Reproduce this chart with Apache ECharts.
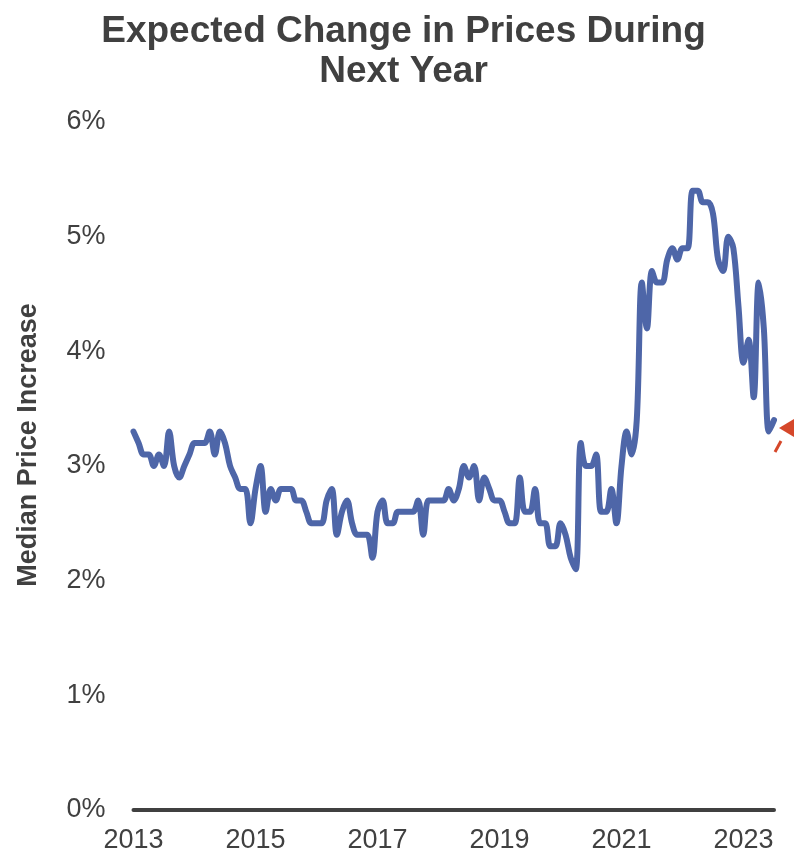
<!DOCTYPE html>
<html>
<head>
<meta charset="utf-8">
<script src="https://cdn.jsdelivr.net/npm/echarts@6/dist/echarts.min.js"></script>
<style>
  html, body { margin: 0; padding: 0; background: #ffffff; }
  #chart { width: 807px; height: 858px; }
</style>
</head>
<body>
<div id="chart"></div>
<script>
// ---- data (monthly, Jan 2013 .. Jul 2023) ----
const startYear = 2013;
const startMonth = 1;
const medianPriceIncrease = [
  3.3, 3.2, 3.1, 3.1, 3.0, 3.1, 3.0, 3.3, 3.0, 2.9, 3.0, 3.1,   // 2013
  3.2, 3.2, 3.2, 3.3, 3.1, 3.3, 3.2, 3.0, 2.9, 2.8, 2.8, 2.5,   // 2014
  2.8, 3.0, 2.6, 2.8, 2.7, 2.8, 2.8, 2.8, 2.7, 2.7, 2.6, 2.5,   // 2015
  2.5, 2.5, 2.7, 2.8, 2.4, 2.6, 2.7, 2.5, 2.4, 2.4, 2.4, 2.2,   // 2016
  2.6, 2.7, 2.5, 2.5, 2.6, 2.6, 2.6, 2.6, 2.7, 2.4, 2.7, 2.7,   // 2017
  2.7, 2.7, 2.8, 2.7, 2.8, 3.0, 2.9, 3.0, 2.7, 2.9, 2.8, 2.7,   // 2018
  2.7, 2.6, 2.5, 2.5, 2.9, 2.6, 2.6, 2.8, 2.5, 2.5, 2.3, 2.3,   // 2019
  2.5, 2.4, 2.2, 2.1, 3.2, 3.0, 3.0, 3.1, 2.6, 2.6, 2.8, 2.5,   // 2020
  3.0, 3.3, 3.1, 3.4, 4.6, 4.2, 4.7, 4.6, 4.6, 4.8, 4.9, 4.8,   // 2021
  4.9, 4.9, 5.4, 5.4, 5.3, 5.3, 5.2, 4.8, 4.7, 5.0, 4.9, 4.4,   // 2022
  3.9, 4.1, 3.6, 4.6, 4.2, 3.3, 3.4                             // 2023
];
const xTickLabels = ['2013', '2015', '2017', '2019', '2021', '2023'];
const yTickValues = [0, 1, 2, 3, 4, 5, 6];

const chartTitle = 'Expected Change in Prices During\nNext Year';
const yAxisTitle = 'Median Price Increase';

// month categories
const months = medianPriceIncrease.map((_, i) => {
  const m0 = startMonth - 1 + i;
  const y = startYear + Math.floor(m0 / 12);
  const m = (m0 % 12) + 1;
  return y + '-' + String(m).padStart(2, '0');
});

const fontFam = "'Liberation Sans', Arial, Helvetica, sans-serif";
const textColor = '#404040';

const chart = echarts.init(document.getElementById('chart'), null, { renderer: 'canvas' });
chart.setOption({
  animation: false,
  backgroundColor: '#ffffff',
  title: {
    text: chartTitle,
    left: 'center',
    top: 7,
    textStyle: {
      fontFamily: fontFam,
      fontWeight: 'bold',
      fontSize: 37,
      lineHeight: 40,
      color: textColor
    }
  },
  grid: { left: 133.5, right: 33, top: 122, bottom: 48, containLabel: false },
  xAxis: {
    type: 'category',
    data: months,
    boundaryGap: false,
    axisLine: { show: true, lineStyle: { color: textColor, width: 4 } },
    axisTick: { show: false },
    splitLine: { show: false },
    axisLabel: {
      interval: 0,
      margin: 17,
      fontFamily: fontFam,
      fontSize: 27,
      color: textColor,
      formatter: function (val) {
        const y = val.slice(0, 4);
        return (val.slice(5) === '01' && xTickLabels.indexOf(y) >= 0) ? y : '';
      }
    }
  },
  yAxis: {
    type: 'value',
    min: yTickValues[0],
    max: yTickValues[yTickValues.length - 1],
    interval: 1,
    axisLine: { show: false },
    axisTick: { show: false },
    splitLine: { show: false },
    axisLabel: {
      margin: 28,
      fontFamily: fontFam,
      fontSize: 27,
      color: textColor,
      formatter: '{value}%'
    },
    name: yAxisTitle,
    nameLocation: 'middle',
    nameRotate: 90,
    nameGap: 91,
    nameTextStyle: {
      fontFamily: fontFam,
      fontWeight: 'bold',
      fontSize: 27,
      color: textColor,
      padding: [0, 0, 0, 42]
    }
  },
  series: [{
    type: 'line',
    data: medianPriceIncrease,
    smooth: 0.35,
    showSymbol: false,
    symbol: 'none',
    lineStyle: { color: '#4e66a8', width: 6, cap: 'round', join: 'round' },
    z: 3
  }],
  graphic: [
    {
      type: 'polygon',
      shape: { points: [[779, 428], [794, 419], [794, 437]] },
      style: { fill: '#d5472a' },
      silent: true
    },
    {
      type: 'line',
      shape: { x1: 775, y1: 452, x2: 781, y2: 441 },
      style: { stroke: '#d5472a', lineWidth: 3 },
      silent: true
    }
  ]
});
</script>
</body>
</html>
